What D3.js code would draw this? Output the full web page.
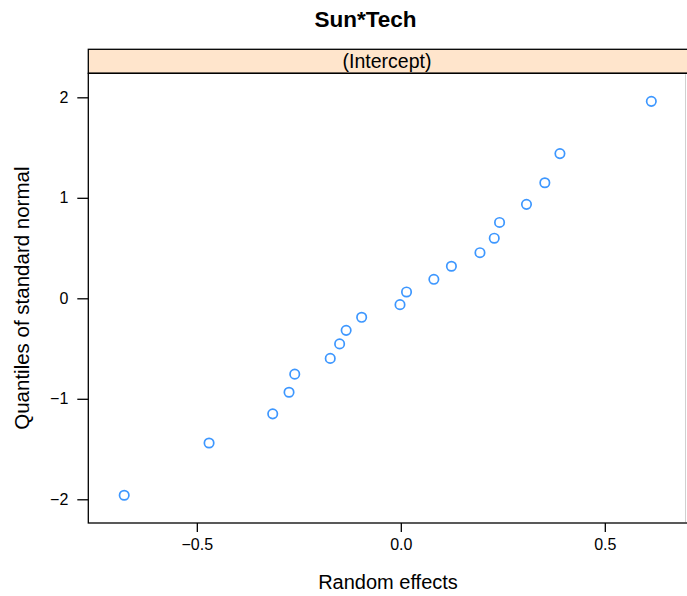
<!DOCTYPE html>
<html><head><meta charset="utf-8">
<script src="https://cdn.jsdelivr.net/npm/d3@7"></script>
<style>body{margin:0;background:#fff}svg{display:block}text{font-family:"Liberation Sans",Arial,sans-serif}</style>
</head><body>
<svg id="c" width="687" height="596"></svg>
<script>
const title = "Sun*Tech";
const stripLabel = "(Intercept)";
const xLabel = "Random effects";
const yLabel = "Quantiles of standard normal";
const randomEffects = [-0.678,-0.470,-0.314,-0.274,-0.260,-0.173,-0.150,-0.134,-0.096,-0.002,0.014,0.081,0.124,0.194,0.229,0.242,0.308,0.353,0.390,0.614];
const normalQuantiles = [-1.960,-1.440,-1.150,-0.935,-0.755,-0.598,-0.454,-0.319,-0.189,-0.063,0.063,0.189,0.319,0.454,0.598,0.755,0.935,1.150,1.440,1.960];
const xTicks = [-0.5, 0.0, 0.5];
const xTickLabels = ["\u22120.5","0.0","0.5"];
const yTicks = [-2,-1,0,1,2];
const yTickLabels = ["\u22122","\u22121","0","1","2"];

const svg = d3.select("#c");
const L = 88.3, R = 686, T = 73.3, B = 523, stripTop = 49.3;
const x = d3.scaleLinear().domain([-0.766, 0.699]).range([L, R]);
const y = d3.scaleLinear().domain([-2.236, 2.239]).range([B, T]);

svg.append("text").attr("x", 365.5).attr("y", 27).attr("text-anchor","middle")
  .attr("font-size", 22.5).attr("font-weight","bold").attr("fill","#000").text(title);

// strip (extends past the right edge, as in the reference)
svg.append("rect").attr("x", L).attr("y", stripTop).attr("width", R-L+10).attr("height", T-stripTop)
  .attr("fill","#ffe5cc").attr("stroke","#000").attr("stroke-width",1.3);
svg.append("text").attr("x",387).attr("y",(stripTop+T)/2+7).attr("text-anchor","middle")
  .attr("font-size",19.5).attr("fill","#000").text(stripLabel);

// panel
svg.append("rect").attr("x", L).attr("y", T).attr("width", R-L+10).attr("height", B-T)
  .attr("fill","none").attr("stroke","#000").attr("stroke-width",1.3);
svg.append("line").attr("x1",685.5).attr("x2",685.5).attr("y1",T+1).attr("y2",B-1)
  .attr("stroke","#d0d0d0").attr("stroke-width",1);

const xAxis = d3.axisBottom(x).tickValues(xTicks).tickFormat((d,i)=>xTickLabels[i]).tickSize(9).tickPadding(7);
const gx = svg.append("g").attr("transform",`translate(0,${B})`).call(xAxis);
gx.select(".domain").remove();
gx.selectAll("text").attr("font-size",16).attr("fill","#000").style("font-family","Liberation Sans, Arial, sans-serif");
gx.selectAll("line").attr("stroke","#000").attr("stroke-width",1.3);

const yAxis = d3.axisLeft(y).tickValues(yTicks).tickFormat((d,i)=>yTickLabels[i]).tickSize(11).tickPadding(9);
const gy = svg.append("g").attr("transform",`translate(${L},0)`).call(yAxis);
gy.select(".domain").remove();
gy.selectAll("text").attr("font-size",16).attr("fill","#000").style("font-family","Liberation Sans, Arial, sans-serif");
gy.selectAll("line").attr("stroke","#000").attr("stroke-width",1.3);

svg.append("text").attr("x",388).attr("y",589).attr("text-anchor","middle")
  .attr("font-size",20).attr("fill","#000").text(xLabel);
svg.append("text").attr("transform",`translate(29,${(T+B)/2}) rotate(-90)`).attr("text-anchor","middle")
  .attr("font-size",20.5).attr("fill","#000").text(yLabel);

svg.append("g").selectAll("circle").data(randomEffects).join("circle")
  .attr("cx", d=>x(d)).attr("cy",(d,i)=>y(normalQuantiles[i])).attr("r",4.7)
  .attr("fill","none").attr("stroke","#3d97ff").attr("stroke-width",1.7);
</script>
</body></html>
